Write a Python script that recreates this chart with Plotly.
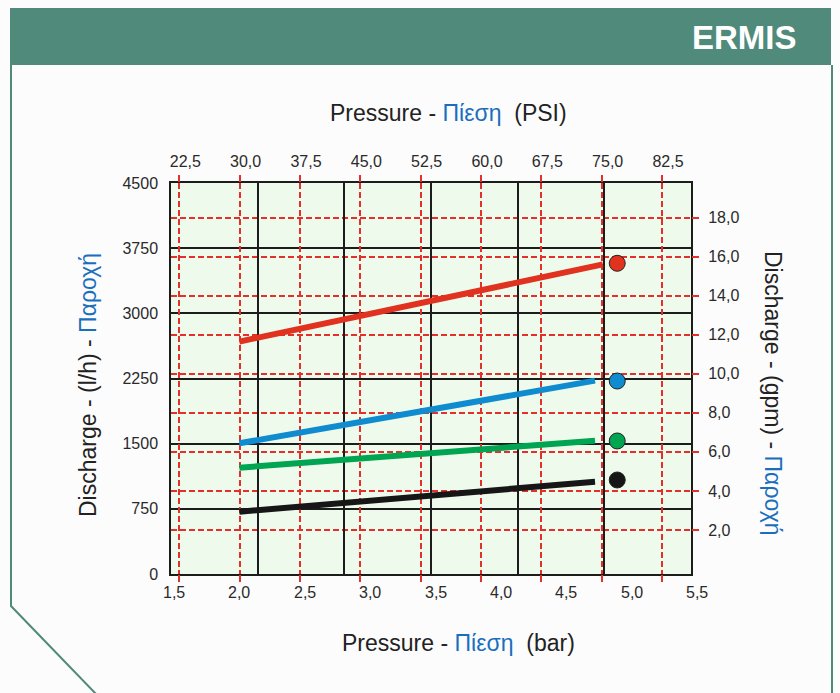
import plotly.graph_objects as go

# ---------------- data ----------------
BAR_TICKS = [1.5, 2.0, 2.5, 3.0, 3.5, 4.0, 4.5, 5.0, 5.5]
PSI_TICKS = [22.5, 30.0, 37.5, 45.0, 52.5, 60.0, 67.5, 75.0, 82.5]
LPH_TICKS = [0, 750, 1500, 2250, 3000, 3750, 4500]
GPM_TICKS = [2.0, 4.0, 6.0, 8.0, 10.0, 12.0, 14.0, 16.0, 18.0]

series_names = ["red", "blue", "green", "black"]
series_colors = ["#e1311f", "#0e8ccf", "#00a552", "#161616"]
pressure_bar = {"red": [2.0, 4.78], "blue": [2.0, 4.72], "green": [2.0, 4.72], "black": [2.0, 4.72]}
discharge_lph = {"red": [2675, 3564], "blue": [1504, 2225], "green": [1224, 1534], "black": [717, 1062]}
marker_bar = 4.89
marker_lph = {"red": 3576, "blue": 2221, "green": 1531, "black": 1082}

def fmt(v):
    return f"{v:.1f}".replace(".", ",")

# ---------------- geometry helpers (decoration only) ----------------
L, R, T, B = 171, 691, 183, 574
W, H = 840, 693
def px(x):
    return (x - L) / (R - L)
def py(y):
    return (B - y) / (B - T)

RED = "#e3302a"
BLACK = "#1c1c1c"
BLUE_TXT = "#1a6fbd"
FONT = "Liberation Sans, Arial, sans-serif"
TICKFONT = dict(family=FONT, size=16, color="#2a2a2a")
DASH = "6px,3px"

fig = go.Figure()

# empty traces so that the overlay axes get drawn
fig.add_trace(go.Scatter(x=[], y=[], xaxis="x2", yaxis="y", showlegend=False))
fig.add_trace(go.Scatter(x=[], y=[], xaxis="x3", yaxis="y", showlegend=False))
fig.add_trace(go.Scatter(x=[], y=[], xaxis="x", yaxis="y2", showlegend=False))

for n, c in zip(series_names, series_colors):
    fig.add_trace(go.Scatter(x=pressure_bar[n], y=discharge_lph[n], mode="lines",
                             line=dict(color=c, width=6), xaxis="x", yaxis="y",
                             showlegend=False, hoverinfo="skip"))
for n, c in zip(series_names, series_colors):
    fig.add_trace(go.Scatter(x=[marker_bar], y=[marker_lph[n]], mode="markers",
                             marker=dict(color=c, size=16, line=dict(color="#222", width=1)),
                             xaxis="x", yaxis="y", showlegend=False, hoverinfo="skip"))

bar_range = [1.5 - 3 / 130.75, 1.5 + 517 / 130.75]
psi_range = [22.5 - 8.3 / 8.047, 82.5 + 29 / 8.047]
gpm_range = [-0.255, 19.77]

fig.update_layout(
    width=W, height=H,
    margin=dict(l=L, r=W - R, t=T, b=H - B, pad=0),
    paper_bgcolor="#fcfcfc",
    plot_bgcolor="#eefbec",
    font=dict(family=FONT, size=16, color="#2a2a2a"),
    xaxis=dict(range=bar_range, showgrid=False, zeroline=False, showticklabels=False,
               ticks=""),
    xaxis2=dict(overlaying="x", side="top", range=psi_range, tickvals=PSI_TICKS,
                ticktext=[fmt(v) for v in PSI_TICKS], showgrid=True, gridcolor=RED,
                griddash=DASH, gridwidth=1.5, zeroline=False, ticks="outside",
                ticklen=7, tickcolor=RED, tickwidth=1.5, mirror="ticks",
                ticklabelshift=6, ticklabelstandoff=2, anchor="y", tickfont=TICKFONT),
    xaxis3=dict(overlaying="x", range=[0, 6], dtick=1, showticklabels=False,
                showgrid=True, gridcolor=BLACK, gridwidth=1.5, zeroline=False,
                showline=True, mirror=True, linecolor=BLACK, linewidth=1.5, anchor="y"),
    yaxis=dict(range=[0, 4500], tickvals=LPH_TICKS, showgrid=True, gridcolor=BLACK,
               gridwidth=1.5, zeroline=False, showline=True, mirror=True,
               linecolor=BLACK, linewidth=1.5, ticks="", ticklabelstandoff=8,
               tickfont=TICKFONT),
    yaxis2=dict(overlaying="y", side="right", range=gpm_range, tickvals=GPM_TICKS,
                ticktext=[fmt(v) for v in GPM_TICKS], showgrid=True, gridcolor=RED,
                griddash=DASH, gridwidth=1.8, zeroline=False, ticks="outside",
                ticklen=7, tickcolor=RED, tickwidth=1.8, ticklabelstandoff=6, anchor="x",
                tickfont=TICKFONT),
)

# bar tick labels (the last one lies just beyond the plotted range),
# placed along the bar axis scale
for v in BAR_TICKS:
    xp = (v - bar_range[0]) / (bar_range[1] - bar_range[0])
    fig.add_annotation(x=xp, y=0, xref="paper", yref="paper", text=fmt(v), showarrow=False,
                       yanchor="middle", xanchor="center", yshift=-18, font=TICKFONT)

# axis titles
blue = lambda s: f"<span style='color:{BLUE_TXT}'>{s}</span>"
TITLEFONT = dict(family=FONT, size=23, color="#222")
fig.add_annotation(x=px(448), y=py(113), xref="paper", yref="paper", showarrow=False,
                   xanchor="center", yanchor="middle",
                   text=f"Pressure - {blue('Πίεση')}&nbsp; (PSI)", font=TITLEFONT)
fig.add_annotation(x=px(458), y=py(643), xref="paper", yref="paper", showarrow=False,
                   xanchor="center", yanchor="middle",
                   text=f"Pressure - {blue('Πίεση')}&nbsp; (bar)", font=TITLEFONT)
fig.add_annotation(x=px(88), y=py(385), xref="paper", yref="paper", showarrow=False,
                   xanchor="center", yanchor="middle",
                   textangle=-90, text=f"Discharge - (l/h) - {blue('Παροχή')}", font=TITLEFONT)
fig.add_annotation(x=px(773), y=py(393), xref="paper", yref="paper", showarrow=False,
                   xanchor="center", yanchor="middle",
                   textangle=90, text=f"Discharge - (gpm) - {blue('Παροχή')}", font=TITLEFONT)

# banner / panel decoration
GREEN = "#508a7a"
fig.add_shape(type="rect", xref="paper", yref="paper", x0=px(10), x1=px(831),
              y0=py(65), y1=py(8), fillcolor=GREEN, line=dict(width=0), layer="below")
fig.add_shape(type="path", xref="paper", yref="paper",
              path=f"M {px(11)} {py(65)} L {px(11)} {py(606)} L {px(97)} {py(695)}",
              line=dict(color=GREEN, width=2))
fig.add_shape(type="line", xref="paper", yref="paper", x0=px(832), x1=px(832),
              y0=py(65), y1=py(695), line=dict(color=GREEN, width=2))
fig.add_annotation(x=px(799), y=py(38), xref="paper", yref="paper", showarrow=False,
                   xanchor="right", yanchor="middle", text="<b>ERMIS</b>",
                   font=dict(size=33, color="white", family="Liberation Sans, Arial"))

fig.write_html("out.html", config={"displayModeBar": False},
               post_script="document.body.style.margin='0';")
